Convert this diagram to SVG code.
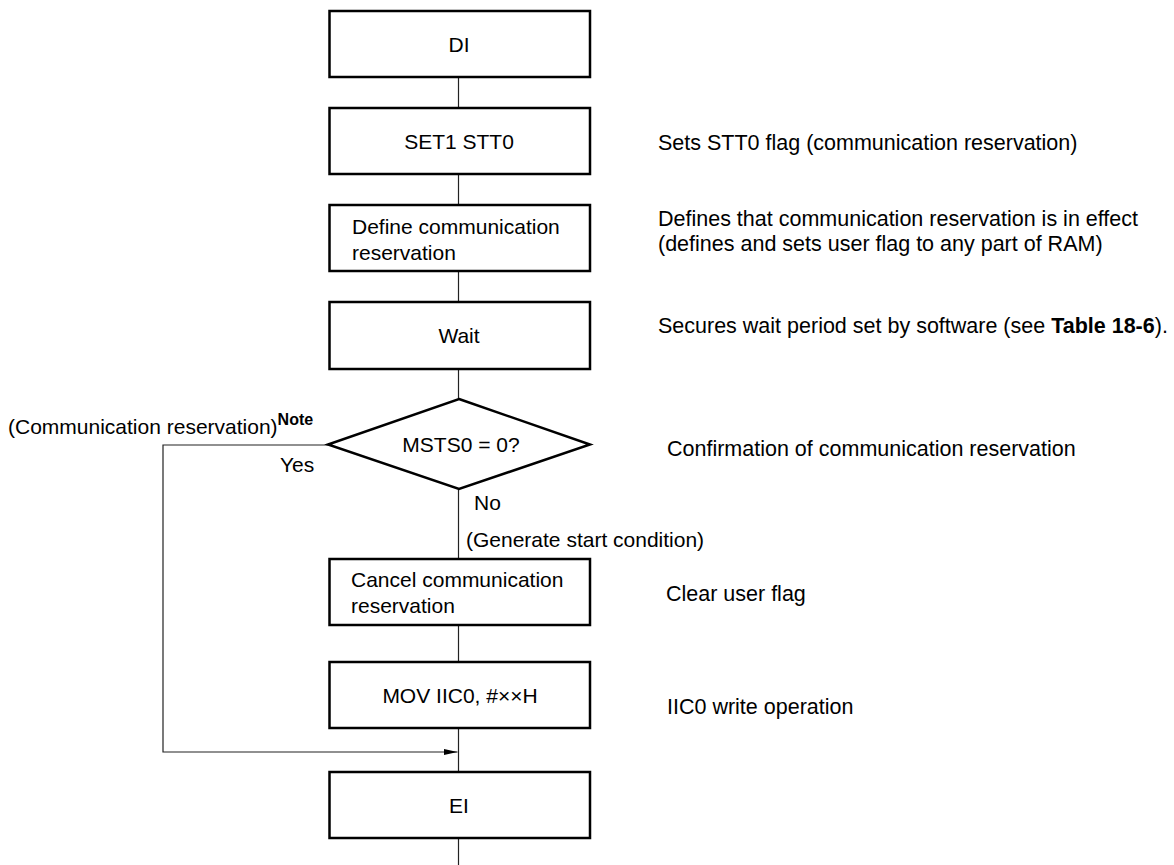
<svg xmlns="http://www.w3.org/2000/svg" width="1174" height="865" viewBox="0 0 1174 865">
<style>
.box{fill:#fff;stroke:#000;stroke-width:2.5}
.ln{fill:none;stroke:#222;stroke-width:1.2}
text{font-family:"Liberation Sans",Arial,Helvetica,sans-serif;font-size:21px;fill:#000}
.side{font-size:21.5px}
.c{text-anchor:middle}
.b{font-weight:bold}
.note{font-size:16px;font-weight:bold}
</style>
<defs>
<marker id="arr" viewBox="0 0 14 6" refX="14" refY="3" markerWidth="14" markerHeight="6" markerUnits="userSpaceOnUse" orient="auto">
<path d="M0,0 L14,3 L0,6 Z" fill="#000"/>
</marker>
</defs>
<rect width="1174" height="865" fill="#fff"/>
<g id="connectors">
<line class="ln" x1="458.5" y1="77" x2="458.5" y2="108"/>
<line class="ln" x1="458.5" y1="174" x2="458.5" y2="205"/>
<line class="ln" x1="458.5" y1="271" x2="458.5" y2="302"/>
<line class="ln" x1="458.5" y1="369" x2="458.5" y2="399"/>
<line class="ln" x1="458.5" y1="489" x2="458.5" y2="559"/>
<line class="ln" x1="458.5" y1="625" x2="458.5" y2="662"/>
<line class="ln" x1="458.5" y1="728" x2="458.5" y2="772"/>
<line class="ln" x1="458.5" y1="838" x2="458.5" y2="865"/>
<polyline class="ln" points="328,445 163,445 163,752 457.5,752" marker-end="url(#arr)"/>
</g>
<g id="n-di">
<rect class="box" x="329.5" y="11" width="260.5" height="66"/>
<text class="c" x="459" y="51.5">DI</text>
</g>
<g id="n-set1">
<rect class="box" x="329.5" y="108" width="260.5" height="66"/>
<text class="c" x="459" y="148.5">SET1 STT0</text>
</g>
<g id="n-define">
<rect class="box" x="329.5" y="205" width="260.5" height="66"/>
<text x="352" y="234">Define communication</text>
<text x="352" y="260">reservation</text>
</g>
<g id="n-wait">
<rect class="box" x="329.5" y="302" width="260.5" height="67"/>
<text class="c" x="459" y="343">Wait</text>
</g>
<g id="n-msts">
<polygon class="box" points="459,399 590,444.5 459,489 328,444.5"/>
<text class="c" x="461" y="452">MSTS0 = 0?</text>
</g>
<g id="n-cancel">
<rect class="box" x="329.5" y="559" width="260.5" height="66"/>
<text x="351" y="587">Cancel communication</text>
<text x="351" y="613">reservation</text>
</g>
<g id="n-mov">
<rect class="box" x="329.5" y="662" width="260.5" height="66"/>
<text class="c" x="460" y="702.5">MOV IIC0, #××H</text>
</g>
<g id="n-ei">
<rect class="box" x="329.5" y="772" width="260.5" height="66"/>
<text class="c" x="459" y="812.5">EI</text>
</g>
<g id="labels">
<text x="8" y="434">(Communication reservation)<tspan class="note" dy="-9">Note</tspan></text>
<text x="280" y="472">Yes</text>
<text x="474" y="510">No</text>
<text x="466" y="547">(Generate start condition)</text>
<text class="side" x="658" y="149.5">Sets STT0 flag (communication reservation)</text>
<text class="side" x="658" y="225.5">Defines that communication reservation is in effect</text>
<text class="side" x="658" y="250.5">(defines and sets user flag to any part of RAM)</text>
<text class="side" x="658" y="332.5">Secures wait period set by software (see <tspan class="b">Table 18-6</tspan>).</text>
<text class="side" x="667" y="455.5">Confirmation of communication reservation</text>
<text class="side" x="666" y="600.5">Clear user flag</text>
<text class="side" x="667" y="713.5">IIC0 write operation</text>
</g>
</svg>
